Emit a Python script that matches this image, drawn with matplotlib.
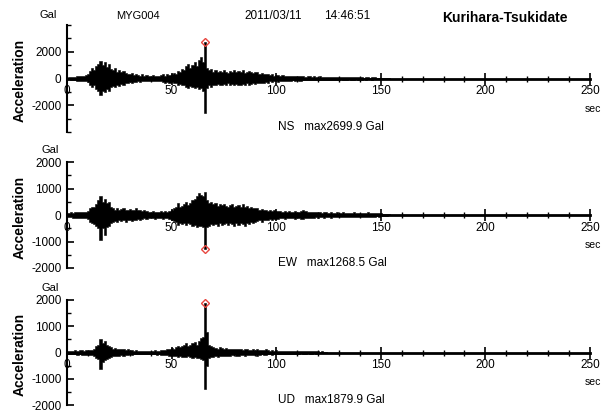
import numpy as np
import matplotlib.pyplot as plt
from matplotlib.ticker import MultipleLocator

plt.rcParams['font.family'] = ['Liberation Sans', 'DejaVu Sans']

# one envelope value per second, 0 .. 155 s (Gal), read from the record
times = np.arange(0, 156)

ns_upper = [
    60, 80, 90, 100, 120, 180, 150, 200, 180, 250,
    300, 550, 750, 650, 900, 1100, 1300, 1000, 1200, 850,
    1050, 700, 600, 750, 500, 650, 450, 550, 400, 350,
    300, 380, 250, 300, 280, 220, 300, 200, 250, 180,
    200, 250, 180, 220, 200, 250, 300, 220, 350, 280,
    300, 400, 350, 550, 450, 700, 600, 900, 1100, 750,
    1000, 1200, 900, 1400, 1600, 1200, 2699.9, 800, 600, 700,
    500, 650, 500, 550, 450, 600, 500, 400, 550, 500,
    600, 450, 550, 500, 600, 400, 500, 550, 450, 400,
    500, 450, 350, 400, 350, 300, 350, 250, 300, 220,
    250, 280, 200, 250, 200, 220, 180, 200, 150, 180,
    150, 170, 200, 150, 140, 160, 150, 130, 150, 140,
    120, 150, 130, 120, 100, 110, 90, 120, 100, 90,
    100, 80, 110, 90, 100, 80, 90, 100, 80, 90,
    80, 100, 70, 90, 80, 70, 90, 80, 60, 70,
    60, 70, 50, 40, 20, 0,
]
ns_lower = [
    60, 70, 90, 100, 110, 150, 170, 180, 200, 220,
    280, 450, 600, 500, 800, 950, 1250, 900, 1000, 800,
    950, 650, 550, 600, 500, 550, 400, 500, 350, 300,
    280, 300, 250, 280, 220, 250, 200, 220, 180, 200,
    180, 220, 200, 180, 220, 200, 250, 300, 250, 300,
    280, 350, 300, 450, 400, 500, 450, 600, 700, 550,
    650, 700, 600, 800, 700, 900, 2600, 700, 500, 600,
    450, 500, 400, 500, 450, 400, 500, 350, 450, 400,
    500, 400, 450, 500, 400, 450, 350, 450, 400, 350,
    400, 350, 300, 350, 300, 250, 300, 220, 250, 200,
    220, 250, 180, 220, 180, 200, 160, 180, 140, 160,
    130, 150, 180, 130, 120, 140, 130, 120, 130, 120,
    110, 130, 120, 100, 90, 100, 80, 110, 90, 80,
    90, 70, 100, 80, 90, 70, 80, 90, 70, 80,
    70, 90, 60, 80, 70, 60, 80, 70, 50, 60,
    50, 60, 40, 30, 20, 0,
]

ew_upper = [
    60, 80, 100, 90, 110, 100, 120, 100, 110, 120,
    150, 250, 320, 300, 400, 550, 700, 500, 600, 450,
    500, 300, 250, 200, 250, 180, 220, 250, 200, 180,
    220, 180, 200, 250, 180, 200, 150, 180, 150, 130,
    120, 140, 110, 130, 120, 140, 120, 150, 130, 150,
    180, 250, 300, 450, 300, 350, 400, 500, 380, 450,
    550, 600, 700, 820, 750, 700, 880, 570, 450, 500,
    400, 450, 350, 420, 380, 400, 350, 300, 380, 420,
    300, 350, 380, 300, 400, 300, 350, 250, 300, 280,
    250, 280, 200, 220, 180, 200, 160, 180, 150, 170,
    150, 160, 140, 130, 150, 120, 140, 130, 120, 150,
    130, 110, 150, 180, 140, 120, 130, 110, 120, 100,
    110, 100, 90, 120, 100, 90, 110, 90, 80, 100,
    90, 80, 100, 90, 80, 90, 80, 100, 80, 70,
    80, 90, 70, 80, 100, 70, 80, 70, 60, 70,
    60, 50, 40, 30, 20, 0,
]
ew_lower = [
    60, 80, 90, 100, 100, 110, 100, 120, 110, 120,
    150, 250, 320, 350, 400, 500, 950, 500, 750, 450,
    400, 300, 280, 220, 250, 200, 230, 200, 250, 180,
    200, 220, 180, 200, 150, 180, 160, 130, 150, 120,
    130, 120, 140, 110, 130, 120, 140, 120, 130, 150,
    170, 220, 250, 380, 300, 350, 300, 380, 300, 350,
    400, 380, 450, 420, 400, 450, 1268.5, 440, 400, 350,
    380, 350, 400, 300, 380, 350, 300, 380, 320, 350,
    400, 300, 380, 320, 350, 400, 300, 350, 250, 300,
    250, 220, 200, 250, 180, 200, 170, 150, 180, 160,
    140, 150, 130, 120, 140, 110, 130, 120, 110, 140,
    120, 100, 140, 160, 130, 110, 120, 100, 110, 90,
    100, 90, 80, 110, 90, 80, 100, 80, 70, 90,
    80, 70, 90, 80, 70, 80, 70, 90, 70, 60,
    70, 80, 60, 70, 90, 60, 70, 60, 50, 60,
    50, 40, 30, 20, 10, 0,
]

ud_upper = [
    50, 60, 70, 60, 80, 70, 90, 80, 70, 90,
    80, 100, 90, 150, 250, 300, 500, 350, 450, 300,
    250, 200, 150, 180, 150, 120, 150, 130, 100, 120,
    90, 80, 70, 80, 70, 60, 70, 60, 70, 60,
    70, 60, 80, 70, 60, 80, 90, 100, 120, 150,
    180, 150, 200, 250, 200, 250, 300, 350, 250, 300,
    350, 400, 300, 450, 550, 600, 1879.9, 770, 300, 250,
    200, 180, 150, 200, 170, 150, 180, 150, 130, 150,
    120, 150, 130, 120, 100, 130, 120, 100, 90, 120,
    100, 150, 90, 80, 100, 120, 80, 70, 90, 70,
    80, 60, 70, 60, 50, 70, 60, 50, 60, 50,
    60, 50, 40, 60, 50, 40, 50, 60, 40, 50,
    40, 30, 40, 30, 20, 0, 0, 0, 0, 0,
    0, 0, 0, 0, 0, 0, 0, 0, 0, 0,
    0, 0, 0, 0, 0, 0, 0, 0, 0, 0,
    0, 0, 0, 0, 0, 0,
]
ud_lower = [
    50, 60, 60, 70, 70, 80, 70, 80, 90, 80,
    90, 80, 100, 150, 200, 250, 630, 350, 300, 250,
    200, 180, 150, 120, 150, 130, 100, 120, 90, 80,
    70, 80, 60, 70, 60, 70, 60, 70, 60, 70,
    60, 70, 60, 80, 70, 80, 90, 100, 110, 120,
    130, 150, 120, 180, 150, 170, 190, 180, 150, 190,
    200, 180, 220, 200, 250, 300, 1380, 500, 200, 180,
    170, 150, 180, 150, 130, 150, 140, 120, 130, 110,
    110, 130, 120, 110, 90, 120, 110, 90, 80, 110,
    90, 130, 80, 70, 90, 110, 70, 60, 80, 60,
    70, 50, 60, 50, 40, 60, 50, 40, 50, 40,
    50, 40, 30, 50, 40, 30, 40, 50, 30, 40,
    30, 20, 30, 20, 10, 0, 0, 0, 0, 0,
    0, 0, 0, 0, 0, 0, 0, 0, 0, 0,
    0, 0, 0, 0, 0, 0, 0, 0, 0, 0,
    0, 0, 0, 0, 0, 0,
]

components = ['NS', 'EW', 'UD']
peak_times = [66, 66, 66]
peak_values = [2699.9, -1268.5, 1879.9]
y_limits = [4000, 2000, 2000]

W, H = 607, 412
fig = plt.figure(figsize=(W / 100, H / 100), dpi=100)


def fx(x):
    return x / W


def fy(y):
    return 1 - y / H


# axes boxes in pixels: (top, bottom)
boxes = [(25, 132), (162, 268), (300, 405)]
uppers = [ns_upper, ew_upper, ud_upper]
lowers = [ns_lower, ew_lower, ud_lower]

for i in range(3):
    top, bot = boxes[i]
    ax = fig.add_axes([fx(67), fy(bot), fx(590) - fx(67), (bot - top) / H])
    up = np.array(uppers[i])
    lo = -np.array(lowers[i])
    ax.fill_between(times, lo, up, step='mid', color='black', lw=0.4,
                    edgecolor='black', zorder=3)
    ax.plot([peak_times[i]], [peak_values[i]], 'D', mfc='none', mec='#e8463f',
            ms=4, mew=1, zorder=5, clip_on=False)

    lim = y_limits[i]
    ax.set_xlim(0, 250)
    ax.set_ylim(-lim, lim)
    for s in ['top', 'right']:
        ax.spines[s].set_visible(False)
    ax.spines['bottom'].set_position(('data', 0))
    ax.spines['bottom'].set_linewidth(2)
    ax.spines['left'].set_linewidth(1.5)

    ax.xaxis.set_major_locator(MultipleLocator(50))
    ax.xaxis.set_minor_locator(MultipleLocator(10))
    ax.tick_params(axis='x', which='major', direction='inout', length=8,
                   width=1.2, labelsize=8.5, pad=1)
    ax.tick_params(axis='x', which='minor', direction='inout', length=4,
                   width=1)

    if lim == 4000:
        ax.set_yticks([-2000, 0, 2000])
        ax.yaxis.set_minor_locator(MultipleLocator(1000))
    else:
        ax.set_yticks([-2000, -1000, 0, 1000, 2000])
        ax.yaxis.set_minor_locator(MultipleLocator(500))
    ax.set_yticklabels([str(int(v)) for v in ax.get_yticks()])
    ax.tick_params(axis='y', which='major', direction='in', length=5,
                   width=1.2, labelsize=8.5, pad=4)
    ax.tick_params(axis='y', which='minor', direction='in', length=3,
                   width=1)
    ax.patch.set_alpha(0)

    # labels around each panel
    fig.text(fx(20), fy((top + bot) / 2 + 2), 'Acceleration', rotation=90,
             fontsize=10, fontweight='bold', ha='center', va='center')
    fig.text(fx(593), fy(bot - 23), 'sec', fontsize=7.5, ha='center', va='center')
    fig.text(fx(278), fy(bot - 5), components[i] + '   max%.1f Gal' % abs(peak_values[i]),
             fontsize=8.5, ha='left', va='center')
    if i > 0:
        fig.text(fx(50), fy(top - 12), 'Gal', fontsize=8, ha='center', va='center')

fig.text(fx(48), fy(15), 'Gal', fontsize=8, ha='center', va='center')
fig.text(fx(138), fy(16), 'MYG004', fontsize=8, ha='center', va='center')
fig.text(fx(273), fy(16), '2011/03/11', fontsize=8.5, ha='center', va='center')
fig.text(fx(347), fy(16), '14:46:51', fontsize=8.5, ha='center', va='center')
fig.text(fx(505), fy(18), 'Kurihara-Tsukidate', fontsize=10, fontweight='bold',
         ha='center', va='center')

fig.savefig('out.png', dpi=100)
